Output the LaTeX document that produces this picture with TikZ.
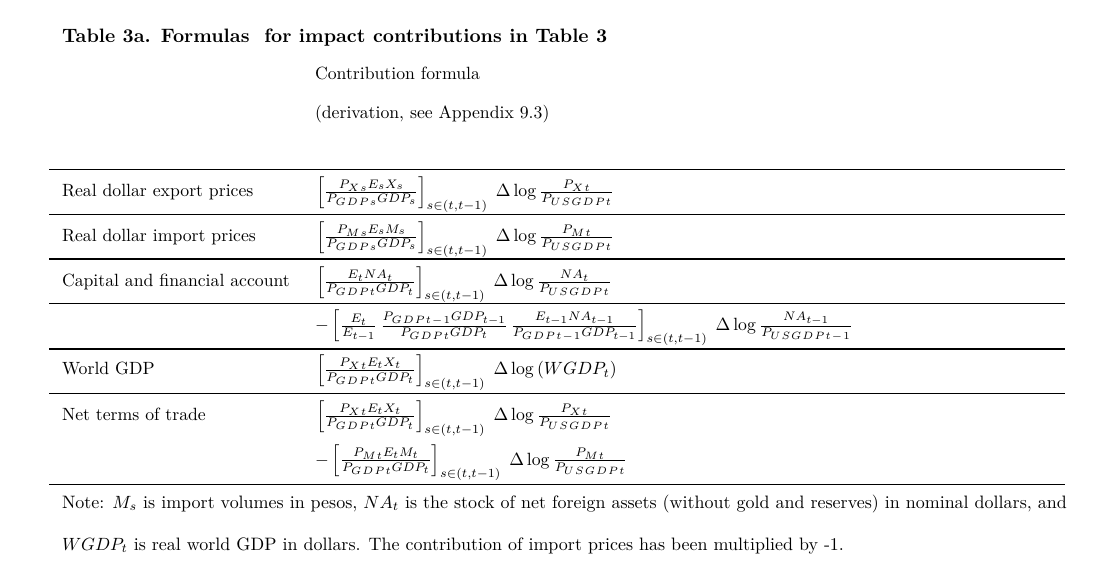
\documentclass[tikz,border=0pt]{standalone}
\usepackage{amsmath}
\DeclareMathSizes{10}{10}{7}{6}
\DeclareMathSizes{10.15}{10.15}{7}{6}
\makeatletter
\newcommand\lsp[1]{\@tfor\lspx:=#1\do{\lspx\mkern1.5mu}\mkern-1.5mu}
\makeatother
\begin{document}
\begin{tikzpicture}[x=0.5645pt,y=-0.5645pt,
  txt/.style={anchor=base west,inner sep=0pt,outer sep=0pt,font=\normalsize},
  notetxt/.style={txt,font=\fontsize{10.15}{12}\selectfont},
  rulex/.style={line width=0.8pt}]
\useasboundingbox (0,0) rectangle (1117,562);
% title and header
\node[txt,font=\fontsize{10.95}{13}\selectfont\bfseries] (title) at (62,43) {Table 3a. Formulas\ \ for impact contributions in Table 3};
\node[txt] (head1) at (315,80) {Contribution formula};
\node[txt] (head2) at (315,119) {(derivation, see Appendix 9.3)};
% rules
\foreach \yy in {169.3,214.3,259,303.3,349,393.3,484.3}
  \draw[rulex] (49,\yy) -- (1065,\yy);
% labels
\node[txt] (l1) at (62,196.7) {Real dollar export prices};
\node[txt] (l2) at (62,241.7) {Real dollar import prices};
\node[txt] (l3) at (62,286.7) {Capital and financial account};
\node[txt] (l5) at (62,375) {World GDP};
\node[txt] (l6) at (62,420.7) {Net terms of trade};
% formulas
\node[txt] (f1) at (316,196.7) {$\left[\frac{P_{\lsp{Xs}}E_sX_s}{P_{\lsp{GDPs}}GDP_s}\right]_{s\in(t,t-1)}\;\Delta\log\frac{P_{\lsp{Xt}}}{P_{\lsp{USGDPt}}}$};
\node[txt] (f2) at (316,241.7) {$\left[\frac{P_{\lsp{Ms}}E_sM_s}{P_{\lsp{GDPs}}GDP_s}\right]_{s\in(t,t-1)}\;\Delta\log\frac{P_{\lsp{Mt}}}{P_{\lsp{USGDPt}}}$};
\node[txt] (f3) at (316,286.7) {$\left[\frac{E_tNA_t}{P_{\lsp{GDPt}}GDP_t}\right]_{s\in(t,t-1)}\;\Delta\log\frac{NA_t}{P_{\lsp{USGDPt}}}$};
\node[txt] (f4) at (315,330.5) {$-\left[\frac{E_t}{E_{t-1}}\,\frac{P_{\lsp{GDPt-1}}GDP_{t-1}}{P_{\lsp{GDPt}}GDP_t}\,\frac{E_{t-1}NA_{t-1}}{P_{\lsp{GDPt-1}}GDP_{t-1}}\right]_{s\in(t,t-1)}\;\Delta\log\frac{NA_{t-1}}{P_{\lsp{USGDPt-1}}}$};
\node[txt] (f5) at (316,375) {$\left[\frac{P_{\lsp{Xt}}E_tX_t}{P_{\lsp{GDPt}}GDP_t}\right]_{s\in(t,t-1)}\;\Delta\log\left(WGDP_t\right)$};
\node[txt] (f6) at (316,420.7) {$\left[\frac{P_{\lsp{Xt}}E_tX_t}{P_{\lsp{GDPt}}GDP_t}\right]_{s\in(t,t-1)}\;\Delta\log\frac{P_{\lsp{Xt}}}{P_{\lsp{USGDPt}}}$};
\node[txt] (f7) at (315,465) {$-\left[\frac{P_{\lsp{Mt}}E_tM_t}{P_{\lsp{GDPt}}GDP_t}\right]_{s\in(t,t-1)}\;\Delta\log\frac{P_{\lsp{Mt}}}{P_{\lsp{USGDPt}}}$};
% note
\node[notetxt] (n1) at (62,508) {Note: $M_s$ is import volumes in pesos, $NA_t$ is the stock of net foreign assets (without gold and reserves) in nominal dollars, and};
\node[notetxt] (n2) at (62,550) {$WGDP_t$ is real world GDP in dollars. The contribution of import prices has been multiplied by -1.};
\end{tikzpicture}
\end{document}
